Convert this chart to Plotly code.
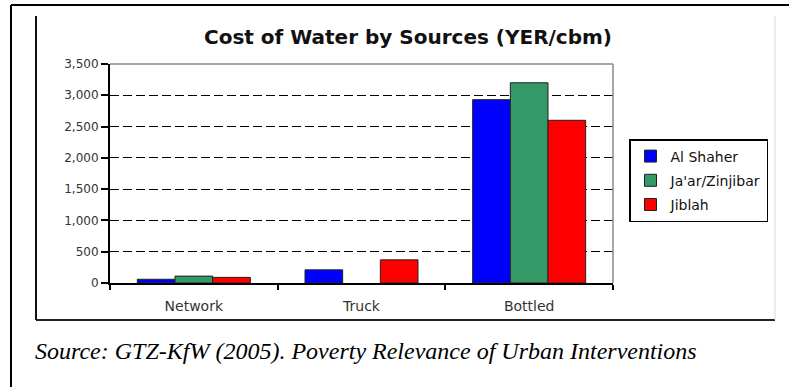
import plotly.graph_objects as go

# ---- data ----
categories = ["Network", "Truck", "Bottled"]
al_shaher = [60, 210, 2930]
jaar_zinjibar = [110, None, 3200]
jiblah = [90, 370, 2600]
series_names = ["Al Shaher", "Ja'ar/Zinjibar", "Jiblah"]
y_tick_values = [0, 500, 1000, 1500, 2000, 2500, 3000, 3500]
y_tick_labels = ["0", "500", "1,000", "1,500", "2,000", "2,500", "3,000", "3,500"]
title_text = "Cost of Water by Sources (YER/cbm)"
source_text = "Source: GTZ-KfW (2005). Poverty Relevance of Urban Interventions"

# ---- layout geometry (pixels) ----
W, H = 789, 387
PL, PR, PT, PB = 110, 613, 64, 283  # plot area edges


def px(x):
    return (x - PL) / (PR - PL)


def py(y):
    return (PB - y) / (PB - PT)


colors = ["#0000FF", "#339966", "#FF0000"]
FONT = "DejaVu Sans, Verdana, sans-serif"

fig = go.Figure()
for i, (name, vals) in enumerate(zip(series_names, [al_shaher, jaar_zinjibar, jiblah])):
    fig.add_trace(go.Bar(
        x=categories, y=vals, name=name,
        marker=dict(color=colors[i], line=dict(color="#222222", width=1)),
        legendgroup=f"g{i}",
    ))

shapes = []
# outer frame (black)
shapes.append(dict(type="line", xref="paper", yref="paper", x0=px(11), x1=px(11), y0=py(5), y1=py(390),
                   line=dict(color="black", width=2)))
shapes.append(dict(type="line", xref="paper", yref="paper", x0=px(11), x1=px(792), y0=py(5), y1=py(5),
                   line=dict(color="black", width=2)))
# inner chart box
shapes.append(dict(type="line", xref="paper", yref="paper", x0=px(36), x1=px(36), y0=py(16), y1=py(320),
                   line=dict(color="#111111", width=2)))
shapes.append(dict(type="line", xref="paper", yref="paper", x0=px(36), x1=px(775), y0=py(320), y1=py(320),
                   line=dict(color="#222222", width=2)))
shapes.append(dict(type="line", xref="paper", yref="paper", x0=px(775), x1=px(775), y0=py(16), y1=py(320),
                   line=dict(color="#d8d8d8", width=1)))
# plot area top and right border (gray)
shapes.append(dict(type="line", xref="paper", yref="paper", x0=0, x1=1, y0=1, y1=1,
                   line=dict(color="#888888", width=1.5)))
shapes.append(dict(type="line", xref="paper", yref="paper", x0=1, x1=1, y0=0, y1=1,
                   line=dict(color="#888888", width=1.5)))

fig.update_layout(
    width=W, height=H,
    margin=dict(l=PL, r=W - PR, t=PT, b=H - PB),
    paper_bgcolor="white", plot_bgcolor="white",
    barmode="group", bargap=0.326, bargroupgap=0,
    font=dict(family=FONT, color="#222222"),
    title=dict(text=title_text, x=408 / W, xanchor="center", y=1 - 37 / H, yanchor="middle",
               font=dict(family=FONT, size=20, color="#111111", weight="bold")),
    xaxis=dict(showline=True, linecolor="black", linewidth=1.5, ticks="outside", tickson="boundaries",
               ticklen=5, tickcolor="black", tickwidth=1.5, showgrid=False, ticklabelstandoff=9,
               tickfont=dict(size=14, color="#333333")),
    yaxis=dict(range=[0, 3500], tickvals=y_tick_values, ticktext=y_tick_labels,
               showline=True, linecolor="black", linewidth=2, ticks="outside", ticklen=7,
               tickcolor="black", tickwidth=1.5, showgrid=True, gridcolor="black", gridwidth=1.2,
               griddash="9px,4px", zeroline=False, tickfont=dict(size=12, color="#333333")),
    legend=dict(x=px(629), y=py(139), xanchor="left", yanchor="top", bordercolor="black", borderwidth=1.5,
                bgcolor="white", font=dict(size=14, color="#111111"), tracegroupgap=3,
                itemclick=False),
    shapes=shapes,
    annotations=[dict(text=source_text, xref="paper", yref="paper", x=px(33), y=py(351),
                      xanchor="left", yanchor="middle", showarrow=False,
                      font=dict(family="Liberation Serif, Times New Roman, serif", size=24,
                                color="black", style="italic"))],
)

fig.write_html("out.html")
